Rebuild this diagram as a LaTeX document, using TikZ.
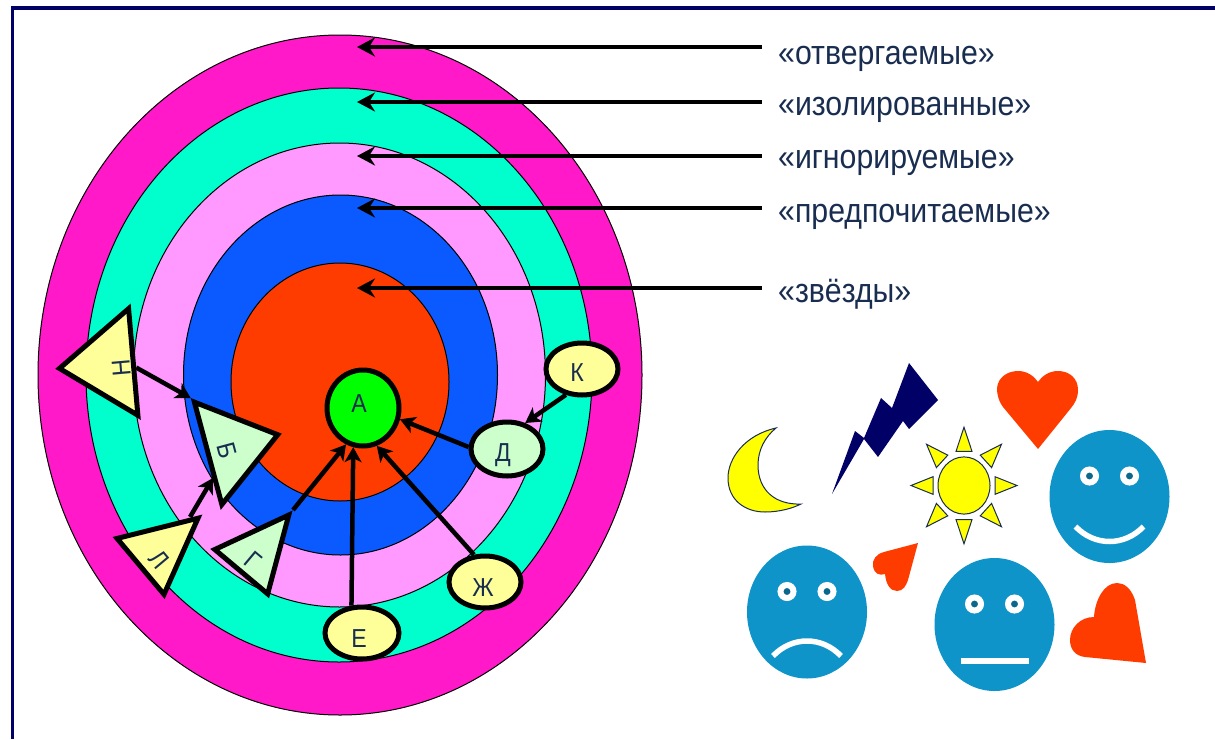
\documentclass[tikz,border=0pt]{standalone}
\usepackage{fontspec}
\setmainfont{Liberation Sans}
\newfontfamily\labelfont[FakeStretch=0.89]{Liberation Sans}
\usetikzlibrary{shapes,arrows.meta,calc}
\definecolor{ringmagenta}{RGB}{255,25,200}
\definecolor{ringteal}{RGB}{0,255,204}
\definecolor{ringpink}{RGB}{255,153,255}
\definecolor{ringblue}{RGB}{10,90,255}
\definecolor{ringred}{RGB}{255,60,0}
\definecolor{palegreen}{RGB}{204,255,204}
\definecolor{paleyellow}{RGB}{255,255,153}
\definecolor{inkblue}{RGB}{25,45,80}
\definecolor{framenavy}{RGB}{0,0,102}
\definecolor{facecyan}{RGB}{14,148,200}
\definecolor{heartred}{RGB}{255,60,0}
\definecolor{sunyellow}{RGB}{255,255,0}
% letter moved off the centre of its shape, box kept empty
\newcommand{\nudged}[3]{\raisebox{\dimexpr-#2-9.4pt}[0pt][0pt]{\kern#1\makebox[0pt]{#3}\kern-#1}}
\tikzset{
  ring/.style={draw=black,line width=1pt},
  person/.style={ellipse,draw=black,line width=5pt,inner sep=0pt,text=inkblue,font=\labelfont\fontsize{26}{28}\selectfont},
  member/.style={isosceles triangle,isosceles triangle stretches,shape border rotate=90,draw=black,line width=5pt,
    inner sep=0pt,text=inkblue,font=\labelfont\fontsize{26}{28}\selectfont},
  tie/.style={line width=4.5pt,-{Stealth[length=15pt,width=17pt,inset=4pt]}},
  pointer/.style={line width=4pt,-{Stealth[length=18pt,width=19pt,inset=6pt]}},
  statuslabel/.style={anchor=base west,inner xsep=16pt,inner ysep=0pt,text=inkblue,font=\labelfont\fontsize{34}{38}\selectfont},
  eyering/.style={draw=white,line width=6pt,fill=facecyan!70!black},
  mouthline/.style={draw=white,line width=5.5pt},
}
\begin{document}
\begin{tikzpicture}[x=1pt,y=-1pt]
    \useasboundingbox (0,0) rectangle (1215,739);
    \fill[white] (0,0) rectangle (1215,739);
    \fill[framenavy] (11,6) rectangle (1215,10);
    \fill[framenavy] (11,6) rectangle (14,739);

    % Sociogram rings
    \draw[ring,fill=ringmagenta] (340,375) ellipse (302 and 340);
    \draw[ring,fill=ringteal] (339,375) ellipse (253 and 287);
    \draw[ring,fill=ringpink] (339.5,375) ellipse (206 and 232);
    \draw[ring,fill=ringblue] (340.5,375) ellipse (157 and 180);
    \draw[ring,fill=ringred] (340,382) ellipse (109 and 119);

    % Status labels
    \node[statuslabel] (lblrejected) at (762,64) {«отвергаемые»};
    \node[statuslabel] (lblisolated) at (762,115) {«изолированные»};
    \node[statuslabel] (lblignored) at (762,168) {«игнорируемые»};
    \node[statuslabel] (lblpreferred) at (762,222) {«предпочитаемые»};
    \node[statuslabel] (lblstars) at (762,302) {«звёзды»};
    \coordinate (ptrejected) at (357,47);
    \coordinate (ptisolated) at (357,102);
    \coordinate (ptignored) at (357,156);
    \coordinate (ptpreferred) at (357,208);
    \coordinate (ptstars) at (357,288);
    \draw[pointer] (lblrejected.west |- ptrejected) -- (ptrejected);
    \draw[pointer] (lblisolated.west |- ptisolated) -- (ptisolated);
    \draw[pointer] (lblignored.west |- ptignored) -- (ptignored);
    \draw[pointer] (lblpreferred.west |- ptpreferred) -- (ptpreferred);
    \draw[pointer] (lblstars.west |- ptstars) -- (ptstars);

    % Members
    \node[person,fill=green,minimum width=72pt,minimum height=76pt] (A) at (363,408) {\nudged{-4pt}{-5pt}{А}};
    \node[person,fill=paleyellow,minimum width=72pt,minimum height=52pt] (K) at (582,369) {\nudged{-5pt}{3pt}{К}};
    \node[person,fill=palegreen,minimum width=72pt,minimum height=54pt] (D) at (507,449) {\nudged{-4pt}{3pt}{Д}};
    \node[person,fill=paleyellow,minimum width=72pt,minimum height=52pt] (Zh) at (485,582) {\nudged{-2pt}{5pt}{Ж}};
    \node[person,fill=paleyellow,minimum width=74pt,minimum height=52pt] (E) at (362,633) {\nudged{-3pt}{5pt}{Е}};
    \node[member,fill=paleyellow,minimum width=107pt,minimum height=74pt,rotate=95,anchor=apex] (N) at (53,369) {\nudged{-4.5pt}{14.5pt}{Н}};
    \node[member,fill=palegreen,minimum width=106pt,minimum height=72pt,rotate=-75,anchor=apex] (B) at (284,433) {\nudged{2pt}{7pt}{Б}};
    \node[member,fill=paleyellow,minimum width=73pt,minimum height=75pt,rotate=-50,anchor=apex] (L) at (203,514) {\nudged{7pt}{4pt}{Л}};
    \node[member,fill=palegreen,minimum width=69pt,minimum height=74pt,rotate=-40,anchor=apex] (G) at (293,510) {\nudged{2pt}{6pt}{Г}};

    % Choices
    \coordinate (Bside) at (213,478);
    \coordinate (Lstart) at (190,517);
    \draw[tie] ($(N.right corner)!0.55!(N.left corner)$) -- (B.left corner);
    \draw[tie] (Lstart) -- (Bside);
    \draw[tie] (G.apex) -- (A.245);
    \draw[tie] (E.111) -- (A.256);
    \draw[tie] (Zh.112) -- (A.290);
    \draw[tie] (D.177) -- (A.-17);
    \draw[tie] (K.238) -- (D.55);

    % Moon and lightning
    \draw[fill=sunyellow,draw=inkblue,line width=1pt] (776,428) .. controls (745,435) and (728,458) .. (728,478)
        .. controls (728,500) and (745,512) .. (765,512) .. controls (780,512) and (793,508) .. (801,504)
        .. controls (775,505) and (758,490) .. (758,465) .. controls (758,450) and (765,437) .. (776,428) -- cycle;
    \fill[framenavy] (909,363) -- (938,400) -- (909,429) -- (903,421) -- (878,457) -- (864,439) -- (832,494)
        -- (855,431) -- (864,438) -- (881,398) -- (892,408) -- cycle;

    % Sun
    \begin{scope}[shift={(964,485.5)},yscale=1.1]
        \draw[fill=sunyellow,draw=inkblue,line width=1pt] (0,0) circle (26);
        \foreach \a in {0,45,...,315} {
            \draw[fill=sunyellow,draw=inkblue,line width=1pt,rotate=\a] (31,-8) -- (53,0) -- (31,8) -- cycle;
        }
    \end{scope}

    % Hearts
    \fill[heartred] (1038,449) -- (1003,407) .. controls (997,399) and (997,390) .. (997,388)
        .. controls (998,377) and (1008,371) .. (1018,371) .. controls (1027,371) and (1034,376) .. (1038,382)
        .. controls (1042,376) and (1049,371) .. (1058,371) .. controls (1069,371) and (1078,378) .. (1078,390)
        .. controls (1078,398) and (1075,403) .. (1071,408) -- cycle;
    \fill[heartred] (918,543) -- (884,552) .. controls (876,554) and (872,560) .. (873,566)
        .. controls (874,574) and (880,576) .. (885,574) .. controls (886,584) and (890,591) .. (897,591)
        .. controls (903,591) and (906,586) .. (908,580) -- cycle;
    \fill[heartred] (1146,663) -- (1135,600) .. controls (1131,588) and (1124,583) .. (1117,583)
        .. controls (1104,583) and (1095,600) .. (1094,617) .. controls (1080,617) and (1070,628) .. (1070,640)
        .. controls (1070,650) and (1076,656) .. (1085,657) -- cycle;

    % Happy face
    \begin{scope}[shift={(1109.5,496.5)}]
        \fill[facecyan] (0,0) ellipse (60 and 66.5);
        \draw[eyering] (-20,-20.5) circle (6.5);
        \draw[eyering] (20,-20.5) circle (6.5);
        \draw[mouthline] (-34,30) .. controls (-15,50) and (15,50) .. (34,30);
    \end{scope}

    % Sad face
    \begin{scope}[shift={(807,612)}]
        \fill[facecyan] (0,0) ellipse (60 and 66.5);
        \draw[eyering] (-20,-20.5) circle (6.5);
        \draw[eyering] (20,-20.5) circle (6.5);
        \draw[mouthline] (-34,44) .. controls (-15,24) and (15,24) .. (34,44);
    \end{scope}

    % Neutral face
    \begin{scope}[shift={(994.5,624.5)}]
        \fill[facecyan] (0,0) ellipse (60 and 66.5);
        \draw[eyering] (-20,-20.5) circle (6.5);
        \draw[eyering] (20,-20.5) circle (6.5);
        \draw[mouthline] (-34,36.5) -- (34,36.5);
    \end{scope}
\end{tikzpicture}
\end{document}
